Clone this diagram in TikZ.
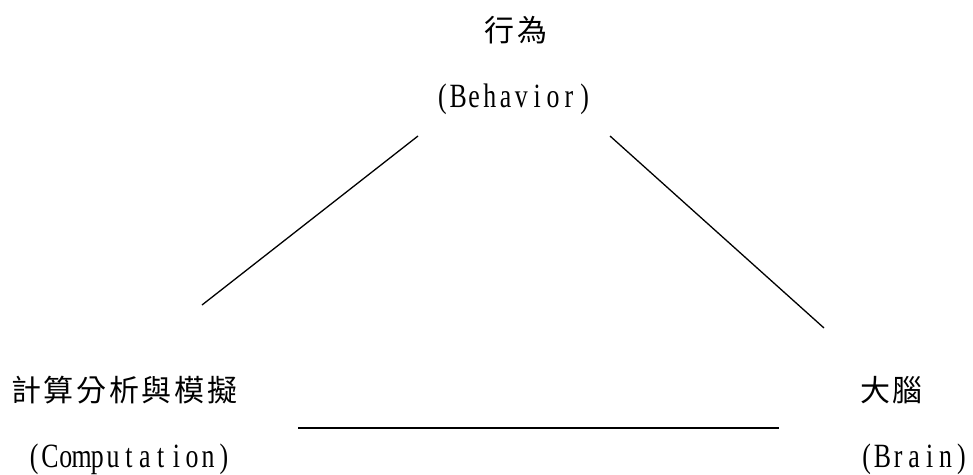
\documentclass[tikz,border=0pt]{standalone}
\usepackage{fontspec}
\newfontfamily\cjk[LetterSpace=9]{Noto Sans CJK TC}
\newfontfamily\lat[FakeStretch=0.76]{Liberation Serif}
\newcommand\zh[1]{{\fontsize{30pt}{32pt}\cjk #1\hspace{-2.7pt}}}
\def\monocell#1{\ifx#1\relax\else\makebox[15.8pt]{#1}\expandafter\monocell\fi}
\newcommand\en[1]{{\fontsize{34pt}{36pt}\lat\monocell(#1)\relax}}
\begin{document}
\begin{tikzpicture}[x=1pt,y=-1pt,
  lbl/.style={inner sep=0pt,outer sep=0pt,text=black},
  edge/.style={line width=1.3pt,black}]
\useasboundingbox (0,0) rectangle (973,474);
\node[lbl] (beh) at (516,30) {\zh{行為}};
\node[lbl] (behen) at (513.5,99) {\en{Behavior}};
\node[lbl,anchor=west] (comp) at (11,390) {\zh{計算分析與模擬}};
\node[lbl] (compen) at (129,459) {\en{Computation}};
\node[lbl] (brain) at (891.5,390.5) {\zh{大腦}};
\node[lbl] (brainen) at (914,459) {\en{Brain}};
\coordinate (a1) at (418,136);
\coordinate (a2) at (202,305);
\coordinate (b1) at (610,136);
\coordinate (b2) at (824,328);
\coordinate (c1) at (298,428);
\coordinate (c2) at (779,428);
\draw[edge] (a1) -- (a2);
\draw[edge] (b1) -- (b2);
\draw[edge] (c1) -- (c2);
\end{tikzpicture}
\end{document}
